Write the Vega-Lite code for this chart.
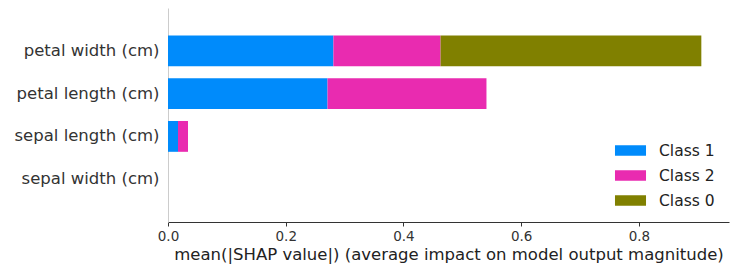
{
  "$schema": "https://vega.github.io/schema/vega-lite/v6.json",
  "width": 561,
  "height": 214,
  "autosize": {"type": "none"},
  "padding": {"left": 168, "top": 8, "right": 1, "bottom": 52},
  "config": {
    "view": {"stroke": null},
    "font": "DejaVu Sans",
    "axis": {"grid": false, "labelFont": "DejaVu Sans", "titleFont": "DejaVu Sans"}
  },
  "data": {
    "values": [
      {"feature": "petal width (cm)", "cls": "Class 1", "value": 0.281},
      {"feature": "petal width (cm)", "cls": "Class 2", "value": 0.182},
      {"feature": "petal width (cm)", "cls": "Class 0", "value": 0.443},
      {"feature": "petal length (cm)", "cls": "Class 1", "value": 0.271},
      {"feature": "petal length (cm)", "cls": "Class 2", "value": 0.270},
      {"feature": "petal length (cm)", "cls": "Class 0", "value": 0.0},
      {"feature": "sepal length (cm)", "cls": "Class 1", "value": 0.017},
      {"feature": "sepal length (cm)", "cls": "Class 2", "value": 0.017},
      {"feature": "sepal length (cm)", "cls": "Class 0", "value": 0.0},
      {"feature": "sepal width (cm)", "cls": "Class 1", "value": 0.0},
      {"feature": "sepal width (cm)", "cls": "Class 2", "value": 0.0},
      {"feature": "sepal width (cm)", "cls": "Class 0", "value": 0.0}
    ]
  },
  "transform": [
    {"calculate": "indexof(['Class 1','Class 2','Class 0'], datum.cls)", "as": "stackOrder"}
  ],
  "mark": {"type": "bar", "stroke": null},
  "encoding": {
    "y": {
      "field": "feature",
      "type": "nominal",
      "sort": ["petal width (cm)", "petal length (cm)", "sepal length (cm)", "sepal width (cm)"],
      "scale": {"paddingInner": 0.28, "paddingOuter": 0.64},
      "axis": {
        "title": null,
        "ticks": false,
        "labelFontSize": 16.5,
        "labelColor": "#333333",
        "labelPadding": 9,
        "domainColor": "#cccccc",
        "domainWidth": 1
      }
    },
    "x": {
      "field": "value",
      "type": "quantitative",
      "stack": "zero",
      "scale": {"domain": [0, 0.953], "nice": false, "zero": true},
      "axis": {
        "values": [0, 0.2, 0.4, 0.6, 0.8],
        "format": ".1f",
        "title": "mean(|SHAP value|) (average impact on model output magnitude)",
        "titleFontSize": 16.5,
        "titleFontWeight": "normal",
        "titleColor": "#222222",
        "titlePadding": 4,
        "labelFontSize": 13.5,
        "labelColor": "#333333",
        "labelPadding": 3,
        "tickSize": 4,
        "tickColor": "#333333",
        "domainColor": "#333333",
        "labelFlush": false
      }
    },
    "color": {
      "field": "cls",
      "type": "nominal",
      "scale": {
        "domain": ["Class 1", "Class 2", "Class 0"],
        "range": ["#008bfb", "#e92bb0", "#808000"]
      },
      "legend": {
        "title": null,
        "orient": "none",
        "legendX": 452,
        "legendY": 132,
        "symbolType": "M-1.5,-0.5H1.5V0.5H-1.5Z",
        "symbolSize": 428,
        "symbolStrokeWidth": 0,
        "labelFontSize": 15.5,
        "labelColor": "#222222",
        "labelOffset": 18,
        "rowPadding": 6
      }
    },
    "order": {"field": "stackOrder", "type": "quantitative"}
  }
}
